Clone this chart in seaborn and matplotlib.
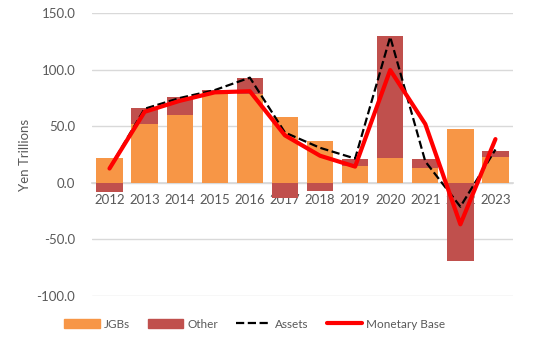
import numpy as np
import pandas as pd
import seaborn as sns
import matplotlib.pyplot as plt
from matplotlib.patches import Patch
from matplotlib.lines import Line2D
from matplotlib.ticker import FormatStrFormatter, FixedLocator

years = ["2012", "2013", "2014", "2015", "2016", "2017", "2018", "2019", "2020", "2021", "2022", "2023"]
jgbs = [22.4, 52.0, 60.0, 80.5, 78.5, 57.8, 37.2, 15.0, 22.4, 13.5, 48.0, 23.3]
other = [-7.7, 13.8, 15.5, 2.0, 14.5, -13.0, -7.0, 6.0, 107.4, 7.5, -69.0, 5.0]
assets = [13.0, 65.5, 75.0, 82.0, 93.0, 44.5, 31.0, 21.5, 129.0, 19.0, -21.0, 29.5]
monetary_base = [12.7, 62.8, 72.5, 80.0, 81.0, 42.0, 24.0, 14.4, 99.7, 52.0, -36.6, 38.7]

orange = "#F79646"
darkred = "#C0504D"
grey = "#595959"

sns.set_theme(style="white")
plt.rcParams["font.family"] = ["Lato", "DejaVu Sans"]

df = pd.DataFrame({"year": years, "jgbs": jgbs, "other": other,
                   "assets": assets, "mb": monetary_base})
# Excel-style stacking: positive "other" sits on top of JGBs, negative goes below zero
df["other_top"] = np.where(df["other"] > 0, df["jgbs"] + df["other"], df["other"])
df["pos"] = np.arange(len(df))

fig = plt.figure(figsize=(5.54, 3.55), dpi=100)
ax = fig.add_axes([0.166, 0.166, 0.760, 0.797])

sns.barplot(data=df, x="year", y="other_top", color=darkred, saturation=1,
            width=0.75, ax=ax, zorder=2, linewidth=0)
sns.barplot(data=df, x="year", y="jgbs", color=orange, saturation=1,
            width=0.75, ax=ax, zorder=2, linewidth=0)
sns.lineplot(data=df, x="pos", y="assets", color="black", linestyle="--",
             linewidth=1.6, ax=ax, zorder=3)
sns.lineplot(data=df, x="pos", y="mb", color="#FF0000", linewidth=3,
             ax=ax, zorder=4)

ax.set_ylim(-100, 150)
ax.set_xlim(-0.5, len(years) - 0.5)
ax.set_yticks([-100, -50, 0, 50, 100, 150])
ax.yaxis.set_major_formatter(FormatStrFormatter("%.1f"))
ax.yaxis.grid(True, color="#D9D9D9", linewidth=1)
ax.set_axisbelow(True)

for s in ["left", "right", "top"]:
    ax.spines[s].set_visible(False)
ax.spines["bottom"].set_position(("data", 0))
ax.spines["bottom"].set_color("#D9D9D9")
ax.spines["bottom"].set_zorder(1)

ax.set_xticks(np.arange(len(years)))
ax.set_xticklabels(years)
ax.tick_params(axis="x", which="major", length=0, pad=8, labelsize=9.5, labelcolor=grey)
ax.xaxis.set_minor_locator(FixedLocator(np.arange(-0.5, len(years), 1.0)))
ax.tick_params(axis="x", which="minor", length=4, color="#D9D9D9", direction="out")
ax.tick_params(axis="y", length=0, labelsize=9.5, labelcolor=grey, pad=12)

ax.set_xlabel("")
ax.set_ylabel("Yen Trillions", fontsize=9.5, color=grey, labelpad=4)

handles = [Patch(color=orange, label="JGBs"),
           Patch(color=darkred, label="Other"),
           Line2D([], [], color="black", linestyle="--", linewidth=1.6, label="Assets"),
           Line2D([], [], color="#FF0000", linewidth=3, label="Monetary Base")]
leg = fig.legend(handles=handles, loc="center", bbox_to_anchor=(0.46, 0.087), ncol=4,
                 frameon=False, fontsize=8.5, handlelength=3.0, handleheight=0.7,
                 columnspacing=1.5, handletextpad=0.35)
for t in leg.get_texts():
    t.set_color(grey)

fig.savefig("out.png", dpi=100)
